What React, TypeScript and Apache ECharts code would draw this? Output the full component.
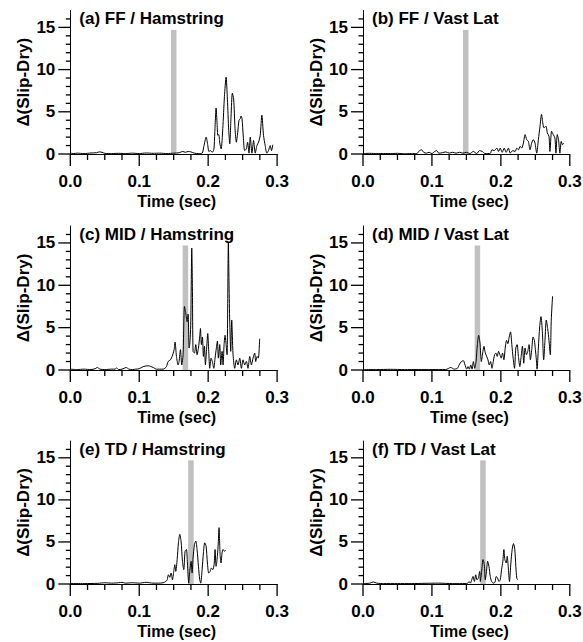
import React, { useEffect, useRef } from 'react';
import * as echarts from 'echarts';

// ---------- data ----------
const panelTitles = [
  '(a) FF / Hamstring',
  '(b) FF / Vast Lat',
  '(c) MID / Hamstring',
  '(d) MID / Vast Lat',
  '(e) TD / Hamstring',
  '(f) TD / Vast Lat',
];
const xAxisName = 'Time (sec)';
const yAxisName = 'Δ(Slip-Dry)';
const yMax = 17;
const xMax = 0.3;
const xMajorTicks = [0, 0.1, 0.2, 0.3];
const xMinorTicks = [0.025, 0.05, 0.075, 0.125, 0.15, 0.175, 0.225, 0.25, 0.275];
const yMajorTicks = [0, 5, 10, 15];
const yMinorTicks = [1, 2, 3, 4, 6, 7, 8, 9, 11, 12, 13, 14, 16];

const windowCenters = [0.150, 0.149, 0.167, 0.166, 0.175, 0.174];
const windowHalfWidth = 0.004;
const windowTop = 14.7;

const ffHamstring: [number, number][] = [
  [0, 0.1], [0.005, 0.05], [0.01, 0.1], [0.02, 0.05], [0.03, 0.12], [0.038, 0.15], [0.042, 0.25], [0.046, 0.2],
  [0.05, 0.08], [0.06, 0.05], [0.07, 0.08], [0.08, 0.05], [0.09, 0.1], [0.1, 0.05], [0.11, 0.12], [0.12, 0.08],
  [0.13, 0.1], [0.14, 0.05], [0.15, 0.1], [0.158, 0.15], [0.163, 0.3], [0.167, 0.2], [0.171, 0.3], [0.175, 0.25],
  [0.18, 0.1], [0.186, 0.05], [0.1913, 0.1], [0.1937, 0.9], [0.1971, 2.0], [0.1995, 1.0], [0.201, 0.3],
  [0.2034, 0.4], [0.2058, 0.2], [0.2082, 0.5], [0.2096, 2.5], [0.2115, 5.45], [0.213, 3.5], [0.214, 2.2],
  [0.2154, 2.3], [0.2168, 1.3], [0.2188, 0.6], [0.2212, 3.0], [0.2236, 6.8], [0.226, 9.1], [0.2279, 6.5],
  [0.2298, 2.8], [0.2313, 1.2], [0.2332, 4.5], [0.2351, 7.2], [0.237, 6.5], [0.239, 3.0], [0.2409, 1.4],
  [0.2428, 2.5], [0.2447, 4.0], [0.2467, 4.2], [0.2476, 4.5], [0.2491, 4.2], [0.251, 2.0], [0.2529, 0.4],
  [0.2553, 0.6], [0.2572, 1.4], [0.2592, 0.1], [0.2611, 2.0], [0.2635, 0.1], [0.2659, 1.6], [0.2683, 0.1],
  [0.2707, 1.0], [0.2731, 1.4], [0.2755, 2.2], [0.2779, 4.6], [0.2803, 2.2], [0.2827, 1.0], [0.2851, 0.1],
  [0.2875, 0.4], [0.29, 1.0], [0.2919, 0.4], [0.2938, 1.1],
];

const ffVastLat: [number, number][] = [
  [0, 0.05], [0.01, 0.08], [0.02, 0.05], [0.03, 0.06], [0.04, 0.05], [0.05, 0.08], [0.06, 0.03], [0.07, 0.05],
  [0.078, 0.05], [0.082, 0.4], [0.085, 0.5], [0.088, 0.2], [0.092, 0.1], [0.096, 0.2], [0.1, 0.05], [0.104, 0.3],
  [0.107, 0.4], [0.11, 0.1], [0.115, 0.15], [0.12, 0.25], [0.125, 0.1], [0.13, 0.2], [0.135, 0.1], [0.14, 0.2],
  [0.145, 0.1], [0.15, 0.2], [0.155, 0.05], [0.16, 0.3], [0.165, 0.05], [0.169, 0.4], [0.173, 0.3], [0.177, 0.05],
  [0.181, 0.05], [0.185, 0.1], [0.187, 0.5], [0.1904, 0.4], [0.1942, 0.7], [0.1966, 0.3], [0.199, 0.7],
  [0.2019, 0.2], [0.2048, 0.7], [0.2077, 0.2], [0.211, 0.7], [0.2135, 0.1], [0.2173, 0.4], [0.2207, 0.3],
  [0.2231, 0.7], [0.2255, 0.5], [0.2279, 0.9], [0.2303, 0.7], [0.2327, 1.3], [0.2351, 2.3], [0.2375, 1.7],
  [0.2399, 1.5], [0.2423, 0.5], [0.2447, 1.3], [0.2471, 1.7], [0.2495, 1.3], [0.252, 0.1], [0.2544, 1.7],
  [0.2568, 3.3], [0.2590, 4.7], [0.2608, 3.7], [0.2625, 3.1], [0.2654, 3.3], [0.2674, 2.5], [0.2698, 2.1],
  [0.2712, 0.3], [0.2736, 2.7], [0.276, 2.3], [0.2784, 1.9], [0.2799, 0.1], [0.2818, 2.3], [0.2837, 1.7],
  [0.2856, 0.1], [0.2876, 1.5], [0.2895, 1.1], [0.2914, 1.3],
];

const midHamstring: [number, number][] = [
  [0, 0.1], [0.01, 0.05], [0.02, 0.1], [0.03, 0.05], [0.036, 0.15], [0.039, 0.3], [0.043, 0.1], [0.05, 0.05],
  [0.06, 0.1], [0.065, 0.1], [0.067, 0.25], [0.07, 0.05], [0.075, 0.1], [0.078, 0.2], [0.081, 0.3], [0.085, 0.1],
  [0.09, 0.05], [0.095, 0.1], [0.1, 0.15], [0.1057, 0.4], [0.113, 0.5], [0.1202, 0.3], [0.125, 0.1],
  [0.1298, 0.1], [0.1347, 0.1], [0.1371, 0.2], [0.1395, 0.4], [0.1419, 1.0], [0.1453, 1.2], [0.1477, 1.6],
  [0.1506, 2.4], [0.152, 3.3], [0.154, 1.6], [0.1564, 0.6], [0.1578, 1.0], [0.1598, 2.4], [0.1617, 0.6],
  [0.1636, 1.8], [0.1656, 7.5], [0.1675, 6.7], [0.1694, 5.7], [0.1709, 6.6], [0.1723, 2.6], [0.1733, 3.0],
  [0.1747, 5.3], [0.1762, 14.4], [0.1772, 9.3], [0.1781, 2.2], [0.1801, 2.0], [0.182, 3.0], [0.1839, 1.8],
  [0.1859, 2.6], [0.1878, 4.0], [0.1888, 4.9], [0.1902, 3.0], [0.1917, 3.9], [0.1931, 1.6], [0.1946, 2.8],
  [0.196, 0.6], [0.1975, 2.2], [0.1994, 4.3], [0.2008, 2.2], [0.2023, 0.2], [0.2042, 1.4], [0.2061, 1.0],
  [0.2081, 0.2], [0.21, 1.4], [0.2119, 2.6], [0.2134, 3.4], [0.2148, 1.4], [0.2168, 3.0], [0.2182, 0.6],
  [0.2202, 2.2], [0.2216, 0.6], [0.2231, 3.0], [0.2245, 4.1], [0.226, 3.0], [0.2274, 1.8], [0.2293, 15.1],
  [0.2303, 10.0], [0.2313, 5.7], [0.2327, 2.2], [0.2342, 5.9], [0.2351, 4.0], [0.2361, 1.8], [0.2385, 0.2],
  [0.2409, 1.2], [0.2433, 0.6], [0.2458, 1.4], [0.2482, 0.2], [0.2506, 1.2], [0.253, 0.6], [0.2554, 1.0],
  [0.2578, 0.2], [0.2603, 1.6], [0.2627, 0.6], [0.2651, 1.4], [0.2675, 2.0], [0.269, 1.0], [0.2709, 1.6],
  [0.2728, 1.4], [0.2747, 3.7],
];

const midVastLat: [number, number][] = [
  [0, 0.05], [0.02, 0.05], [0.04, 0.08], [0.06, 0.05], [0.08, 0.05], [0.1, 0.05], [0.12, 0.05], [0.1274, 0.3],
  [0.1322, 0.1], [0.137, 0.2], [0.1394, 0.6], [0.1428, 1.0], [0.1457, 1.1], [0.1476, 0.7], [0.1505, 0.1],
  [0.1524, 0.4], [0.1543, 0.1], [0.1563, 0.6], [0.1582, 0.1], [0.1601, 1.0], [0.162, 0.2], [0.164, 1.0],
  [0.1659, 3.0], [0.1678, 4.1], [0.1697, 3.2], [0.1717, 1.0], [0.1736, 2.0], [0.1755, 2.8], [0.1774, 2.0],
  [0.1794, 1.6], [0.1813, 1.2], [0.1832, 0.6], [0.1851, 1.0], [0.1871, 0.2], [0.189, 1.0], [0.1909, 1.8],
  [0.1928, 2.0], [0.1947, 1.6], [0.1967, 2.2], [0.1986, 1.8], [0.2005, 1.4], [0.2024, 2.0], [0.2044, 1.2],
  [0.2063, 2.6], [0.2082, 3.5], [0.2101, 3.1], [0.2121, 3.9], [0.214, 4.5], [0.2159, 3.0], [0.2178, 1.4],
  [0.2198, 0.2], [0.2217, 2.6], [0.2236, 3.0], [0.2255, 1.6], [0.2275, 0.4], [0.2294, 1.6], [0.2313, 2.8],
  [0.2332, 0.8], [0.2351, 2.6], [0.2371, 1.8], [0.239, 2.2], [0.2409, 3.0], [0.2428, 1.2], [0.2448, 2.4],
  [0.2467, 3.9], [0.2486, 3.5], [0.2501, 2.4], [0.2515, 1.2], [0.2525, 0.1], [0.2544, 2.6], [0.2563, 5.1],
  [0.2582, 6.3], [0.2602, 4.5], [0.2621, 1.2], [0.264, 3.5], [0.2659, 5.9], [0.2679, 4.9], [0.2698, 3.5],
  [0.2717, 1.8], [0.2731, 5.9], [0.275, 8.7],
];

const tdHamstring: [number, number][] = [
  [0, 0.05], [0.02, 0.05], [0.04, 0.08], [0.05, 0.15], [0.06, 0.1], [0.07, 0.15], [0.075, 0.2], [0.08, 0.1],
  [0.09, 0.15], [0.1, 0.1], [0.11, 0.2], [0.115, 0.15], [0.12, 0.1], [0.128, 0.1], [0.1347, 0.15],
  [0.1385, 0.3], [0.1405, 0.5], [0.1424, 1.1], [0.1443, 0.8], [0.1463, 1.3], [0.1482, 0.5], [0.1501, 1.5],
  [0.1516, 2.3], [0.153, 1.5], [0.155, 2.9], [0.1569, 4.9], [0.1588, 5.9], [0.1607, 5.1], [0.1627, 2.7],
  [0.1646, 1.7], [0.1665, 3.9], [0.1685, 4.1], [0.1699, 2.5], [0.1718, 0.1], [0.1733, 1.5], [0.1752, 2.7],
  [0.1767, 1.3], [0.1781, 3.1], [0.1801, 4.7], [0.182, 5.1], [0.1839, 4.1], [0.1859, 2.1], [0.1878, 0.5],
  [0.1892, 0.1], [0.1912, 1.7], [0.1931, 3.7], [0.195, 4.9], [0.197, 4.5], [0.1989, 2.5], [0.2008, 1.3],
  [0.2028, 1.5], [0.2047, 1.9], [0.2066, 1.7], [0.2086, 2.3], [0.21, 4.1], [0.2115, 2.1], [0.2129, 2.9],
  [0.2144, 4.5], [0.2158, 6.7], [0.2173, 3.5], [0.2187, 2.5], [0.2202, 3.7], [0.2216, 4.1], [0.2236, 3.9],
  [0.2255, 4.0],
];

const tdVastLat: [number, number][] = [
  [0, 0.05], [0.01, 0.1], [0.015, 0.25], [0.02, 0.1], [0.03, 0.05], [0.05, 0.05], [0.07, 0.05], [0.09, 0.08],
  [0.11, 0.1], [0.13, 0.05], [0.14, 0.05], [0.1481, 0.05], [0.152, 0.1], [0.1539, 0.3], [0.1558, 0.1],
  [0.1577, 0.5], [0.1596, 0.9], [0.1616, 0.3], [0.1635, 1.1], [0.1654, 0.5], [0.1673, 0.7], [0.1693, 1.5],
  [0.1702, 0.3], [0.1721, 1.5], [0.1741, 2.9], [0.176, 2.3], [0.1774, 0.5], [0.1789, 1.3], [0.1808, 2.7],
  [0.1827, 2.1], [0.1846, 0.9], [0.1866, 0.3], [0.189, 0.1], [0.1914, 0.2], [0.1933, 0.9], [0.1952, 0.7],
  [0.1972, 0.3], [0.1991, 0.5], [0.201, 1.7], [0.2029, 2.7], [0.2044, 4.1], [0.2058, 2.9], [0.2077, 2.5],
  [0.2092, 3.3], [0.2106, 2.1], [0.2125, 0.3], [0.2145, 2.5], [0.2164, 4.1], [0.2183, 4.8], [0.2202, 4.1],
  [0.2217, 2.1], [0.2231, 0.7], [0.2246, 0.5],
];

const panelData = [ffHamstring, ffVastLat, midHamstring, midVastLat, tdHamstring, tdVastLat];

// ---------- layout ----------
const W = 583;
const H = 642;
const colLefts = [70.3, 363];
const plotWidth = 206.8;
const rowTops = [10.5, 226, 441];
const rowBottoms = [154, 370, 584];
const FONT = 'Liberation Sans, Arial, sans-serif';
const TICK_W = 1.3;
const MAJOR_TICK_PX = 12;
const X_MINOR_TICK_PX = 6;
const Y_MINOR_TICK_PX = 4.5;

// tick marks as filled rectangle symbols placed on the axes through the panel's scales
function tickSeries(i: number) {
  const base = {
    type: 'scatter',
    xAxisIndex: i,
    yAxisIndex: i,
    symbol: 'rect',
    clip: false,
    silent: true,
    itemStyle: { color: '#000', opacity: 1 },
    z: 4,
  };
  return [
    { ...base, data: xMajorTicks.map((t) => [t, 0]), symbolSize: [TICK_W, MAJOR_TICK_PX], symbolOffset: [0, MAJOR_TICK_PX / 2] },
    { ...base, data: xMinorTicks.map((t) => [t, 0]), symbolSize: [TICK_W, X_MINOR_TICK_PX], symbolOffset: [0, X_MINOR_TICK_PX / 2] },
    { ...base, data: yMajorTicks.map((v) => [0, v]), symbolSize: [MAJOR_TICK_PX, TICK_W], symbolOffset: [-MAJOR_TICK_PX / 2, 0] },
    { ...base, data: yMinorTicks.map((v) => [0, v]), symbolSize: [Y_MINOR_TICK_PX, TICK_W], symbolOffset: [-Y_MINOR_TICK_PX / 2, 0] },
  ];
}

function buildOption() {
  const grid: any[] = [];
  const xAxis: any[] = [];
  const yAxis: any[] = [];
  const series: any[] = [];
  const title: any[] = [];
  const black = { color: '#000', width: 1 };

  panelTitles.forEach((name, i) => {
    const col = i % 2;
    const row = Math.floor(i / 2);
    const left = colLefts[col];
    const top = rowTops[row];
    const height = rowBottoms[row] - rowTops[row];
    grid.push({ left, top, width: plotWidth, height, outerBoundsMode: 'none', containLabel: false });

    title.push({
      text: name,
      left: left + 9,
      top: top - 0.5,
      padding: 0,
      textStyle: { fontSize: 17, fontWeight: 'bold', fontFamily: FONT, color: '#000' },
    });

    xAxis.push({
      type: 'value',
      gridIndex: i,
      min: 0,
      max: xMax,
      interval: 0.1,
      name: xAxisName,
      nameLocation: 'middle',
      nameGap: 39,
      nameTextStyle: { fontSize: 16, fontWeight: 'bold', fontFamily: FONT, color: '#000', padding: [0, 0, 0, 6] },
      axisLine: { show: true, onZero: false, lineStyle: black },
      axisTick: { show: false },
      splitLine: { show: false },
      axisLabel: {
        margin: 19,
        fontSize: 17,
        fontWeight: 'bold',
        fontFamily: FONT,
        color: '#000',
        formatter: (v: number) => v.toFixed(1),
      },
    });

    yAxis.push({
      type: 'value',
      gridIndex: i,
      position: 'left',
      min: 0,
      max: yMax,
      interval: 5,
      name: yAxisName,
      nameLocation: 'middle',
      nameGap: 33,
      nameTextStyle: { fontSize: 17, fontWeight: 'bold', fontFamily: FONT, color: '#000' },
      axisLine: { show: true, onZero: false, lineStyle: black },
      axisTick: { show: false },
      splitLine: { show: false },
      axisLabel: {
        margin: 15,
        fontSize: 17,
        fontWeight: 'bold',
        fontFamily: FONT,
        color: '#000',
        customValues: yMajorTicks,
      },
    });

    series.push({
      type: 'line',
      xAxisIndex: i,
      yAxisIndex: i,
      data: panelData[i],
      showSymbol: false,
      smooth: 0.25,
      lineStyle: { color: '#000', width: 1 },
      z: 3,
      markArea: {
        silent: true,
        itemStyle: { color: '#c0c0c0', opacity: 1 },
        data: [[
          { coord: [windowCenters[i] - windowHalfWidth, 0] },
          { coord: [windowCenters[i] + windowHalfWidth, windowTop] },
        ]],
      },
    });

    series.push(...tickSeries(i));
  });

  return {
    animation: false,
    backgroundColor: '#fff',
    title,
    grid,
    xAxis,
    yAxis,
    series,
  };
}

export default function App() {
  const ref = useRef<HTMLDivElement>(null);
  useEffect(() => {
    const el = ref.current;
    if (!el) return;
    const chart = echarts.init(el, undefined, { renderer: 'svg', width: W, height: H });
    chart.setOption(buildOption() as any);
    return () => chart.dispose();
  }, []);
  return (
    <div
      ref={ref}
      style={{ position: 'fixed', left: 0, top: 0, width: W, height: H, background: '#fff' }}
    />
  );
}
